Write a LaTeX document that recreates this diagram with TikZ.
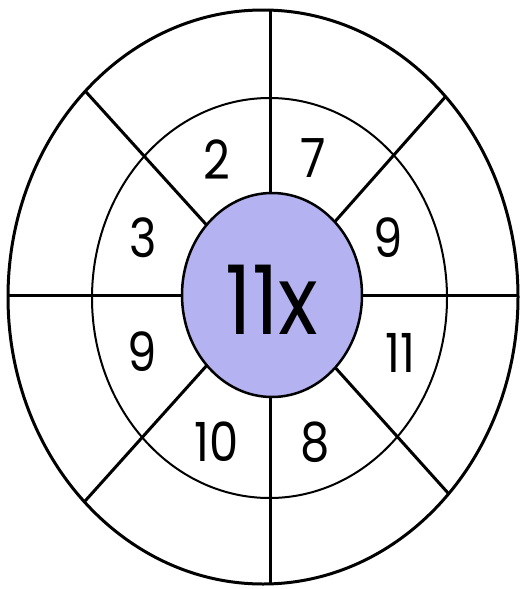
\documentclass[tikz,border=0pt]{standalone}
\usepackage{fontspec}
\setmainfont{Poppins}
\usetikzlibrary{calc}
\definecolor{lav}{RGB}{180,178,240}
\begin{document}
\begin{tikzpicture}[x=1pt,y=-1pt,
  thickline/.style={line width=3pt,black},
  thinline/.style={line width=2pt,black},
  num/.style={font=\fontsize{54}{54}\selectfont,inner sep=0pt,anchor=center,xscale=0.86,transform shape},
  big/.style={font=\fontsize{96}{96}\selectfont,inner sep=0pt,anchor=center,xscale=0.86,transform shape}]
\useasboundingbox (0,0) rectangle (525,589);
\coordinate (c) at (270,295);
% spokes clipped to outer ellipse
\begin{scope}
  \clip (263,297) ellipse [x radius=255, y radius=287];
  \draw[thickline] (c) -- ($(c)!1.3!(87,93)$);
  \draw[thickline] (c) -- ($(c)!1.3!(447,95)$);
  \draw[thickline] (c) -- ($(c)!1.3!(86,500)$);
  \draw[thickline] (c) -- ($(c)!1.3!(448,493)$);
  \draw[thickline] (270,-20) -- (270,620);
  \draw[thickline] (-20,295) -- (560,295);
\end{scope}
\draw[thinline] (269.5,298) ellipse [x radius=177.5, y radius=200];
\draw[thickline] (263,297) ellipse [x radius=255, y radius=287];
\draw[line width=2.5pt,fill=lav] (272,295) ellipse [x radius=90, y radius=102];
\node[big] (center) at (272,300) {11x};
\node[num] (n2) at (217,160) {2};
\node[num] (n7) at (313,158) {7};
\node[num] (n3) at (143,238) {3};
\node[num] (n9a) at (388,238) {9};
\node[num] (n9b) at (142,352) {9};
\node[num] (n11) at (400,353) {11};
\node[num] (n10) at (217,442) {10};
\node[num] (n8) at (315,442) {8};
\end{tikzpicture}
\end{document}
